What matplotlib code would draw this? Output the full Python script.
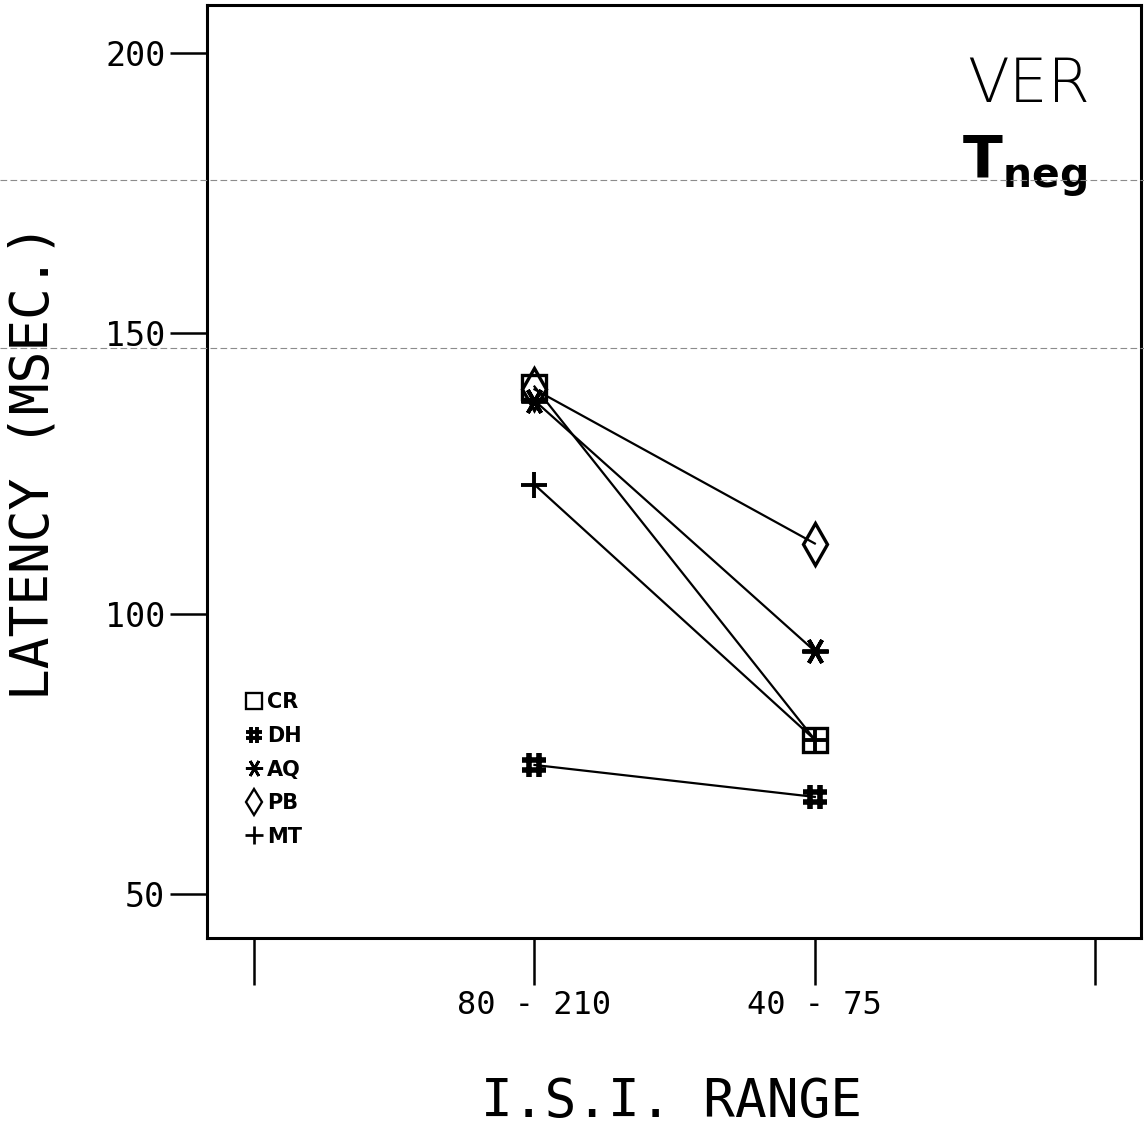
import numpy as np
import matplotlib.pyplot as plt
from matplotlib.lines import Line2D
from matplotlib.path import Path

# Data
categories = ["80 - 210", "40 - 75"]
subjects = ["CR", "DH", "AQ", "PB", "MT"]
cr = [140.5, 77.5]
dh = [73.0, 67.3]
aq = [138.0, 93.3]
pb = [140.0, 112.5]
mt = [123.0, 77.5]

# Options
x_pos = [1, 2]
x_ticks = [0, 1, 2, 3]
x_ticklabels = [""] + categories + [""]
y_ticks = [50, 100, 150, 200]

# '#'-like marker for DH: two bars each way
hash_path = Path(
    [(-0.4, -1), (-0.4, 1), (0.4, -1), (0.4, 1),
     (-1, -0.4), (1, -0.4), (-1, 0.4), (1, 0.4)],
    [Path.MOVETO, Path.LINETO] * 4)

markers = {
    "CR": dict(marker="s", ms=17, mfc="none", mew=2.4),
    "DH": dict(marker=hash_path, ms=17, mfc="none", mew=4.0),
    "AQ": dict(marker=(6, 2, 90), ms=19, mew=2.8),
    "PB": dict(marker="d", ms=21, mfc="none", mew=2.4),
    "MT": dict(marker="+", ms=19, mew=2.8),
}
series = {"CR": cr, "DH": dh, "AQ": aq, "PB": pb, "MT": mt}

plt.rcParams['font.family'] = ['DejaVu Sans']
mono = "DejaVu Sans Mono"

fig = plt.figure(figsize=(11.44, 11.29), dpi=100)
ax = fig.add_axes([0.181, 0.169, 0.8165, 0.8268])

for name in subjects:
    ax.plot(x_pos, series[name], color="black", lw=1.6, mec="black",
            zorder=3, **markers[name])

ax.set_xlim(-0.168, 3.164)
ax.set_ylim(42.1, 208.6)
ax.set_xticks(x_ticks)
ax.set_xticklabels(x_ticklabels)
ax.set_yticks(y_ticks)
ax.tick_params(axis="x", direction="out", length=34, width=1.8, pad=3,
               labelsize=23)
ax.tick_params(axis="y", direction="out", length=27, width=1.8, pad=3,
               labelsize=24)
for lab in ax.get_xticklabels() + ax.get_yticklabels():
    lab.set_fontfamily(mono)
for sp in ax.spines.values():
    sp.set_linewidth(2.2)

ax.set_ylabel("LATENCY (MSEC.)", fontsize=38, fontfamily=mono)
ax.yaxis.set_label_coords(-0.158, 0.51)
ax.set_xlabel("I.S.I. RANGE", fontsize=38, fontfamily=mono)
ax.xaxis.set_label_coords(0.497, -0.148)

# Title text in the corner
ax.text(0.945, 0.945, "VER", transform=ax.transAxes, ha="right", va="top",
        fontsize=44, fontweight="light")
ax.text(0.942, 0.862, r"$\mathbf{T}_{\mathbf{neg}}$", transform=ax.transAxes,
        ha="right", va="top", fontsize=42)

# Legend: markers only
handles = [Line2D([], [], color="black", ls="none", mec="black",
                  **{**markers[n], "ms": markers[n]["ms"] * 0.65,
                     "mew": markers[n]["mew"] * 0.7})
           for n in subjects]
ax.legend(handles, subjects, loc="lower left", bbox_to_anchor=(0.022, 0.078),
          frameon=False, handlelength=0.7, handletextpad=0.3,
          labelspacing=0.65, prop={"weight": "bold", "size": 15})

# faint scan lines across the sheet
for yy in [1 - 180 / 1129, 1 - 348 / 1129]:
    fig.add_artist(Line2D([0, 1], [yy, yy], transform=fig.transFigure,
                          color="0.55", lw=0.8, ls=(0, (6, 3))))

fig.savefig("out.png", dpi=100)
